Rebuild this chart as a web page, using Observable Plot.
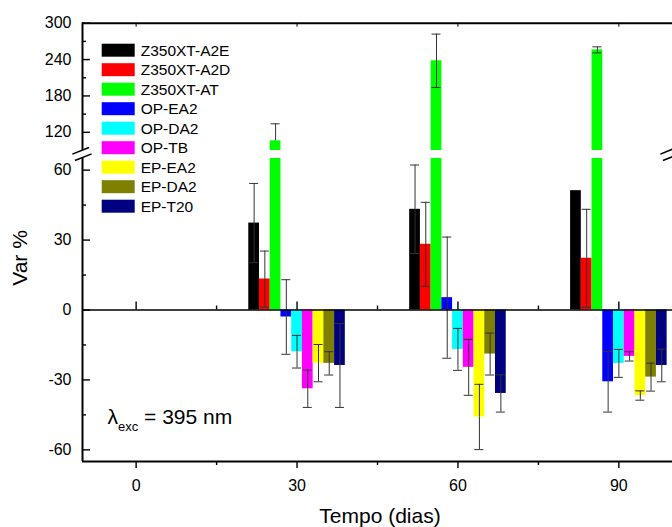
<!DOCTYPE html>
<html>
<head>
<meta charset="utf-8">
<script src="https://cdn.jsdelivr.net/npm/d3@7"></script>
<script src="https://cdn.jsdelivr.net/npm/@observablehq/plot@0.6"></script>
<style>
  body { margin: 0; background: #fff; }
  #chart { width: 672px; height: 527px; position: relative; }
</style>
</head>
<body>
<div id="chart"></div>
<script>
// ---------- data ----------
const days = [30, 60, 90];
const series = ["Z350XT-A2E", "Z350XT-A2D", "Z350XT-AT", "OP-EA2", "OP-DA2", "OP-TB", "EP-EA2", "EP-DA2", "EP-T20"];
const colors = ["#000000", "#ff0000", "#00ff00", "#0000ff", "#00ffff", "#ff00ff", "#ffff00", "#808000", "#000080"];

const var30 = [37.3, 13.3, 106, -3, -17.9, -33.8, -22.8, -22.9, -23.8];
const err30 = [17, 12, 28, 16, 7, 8, 8, 5, 18];
const var60 = [43.2, 28.2, 238, 5.3, -16.9, -24.6, -45.9, -18.9, -35.8];
const err60 = [19, 18, 44, 26, 9, 12, 14, 9, 8];
const var90 = [51.2, 22.2, 256, -30.8, -22.9, -19.9, -36.7, -28.8, -23.8];
const err90 = [0, 21, 5, 13, 6, 2, 2, 6, 7];

const xTicks = [0, 30, 60, 90];
const xMinor = [15, 45, 75];
const yTicksLow = [-60, -30, 0, 30, 60];
const yMinorLow = [-45, -15, 15, 45];
const yTicksHigh = [120, 180, 240, 300];
const yMinorHigh = [150, 210, 270];

const xLabel = "Tempo (dias)";
const yLabel = "Var %";

// ---------- layout constants ----------
const W = 672, H = 527;
const xDomain = [-10, 100];
const lowDomain = [-65, 65];
const highDomain = [90, 300];
const barW = 2;
const FONT = "'Liberation Sans', Arial, sans-serif";

// ---------- build tables ----------
const values = [var30, var60, var90];
const errors = [err30, err60, err90];
const rows = [];
days.forEach((day, d) => series.forEach((s, i) => {
  const xc = day + (i - (series.length - 1) / 2) * barW;
  rows.push({day, series: s, color: colors[i], v: values[d][i], e: errors[d][i], xc, x1: xc - barW / 2, x2: xc + barW / 2});
}));

const segOf = y => (y >= lowDomain[0] && y <= lowDomain[1]) ? 0 : (y >= highDomain[0] && y <= highDomain[1]) ? 1 : -1;

const pieces = [];
for (const r of rows) {
  pieces.push({...r, y1: 0, y2: Math.max(Math.min(r.v, lowDomain[1]), lowDomain[0])});
  if (r.v > highDomain[0]) pieces.push({...r, y1: highDomain[0], y2: Math.min(r.v, highDomain[1])});
}
const errSegs = [], caps = [];
for (const r of rows) {
  if (!r.e) continue;
  for (const p of [r.v - r.e, r.v + r.e]) {
    if (segOf(p) === segOf(r.v) && segOf(p) >= 0) {
      errSegs.push({xc: r.xc, y1: Math.min(p, r.v), y2: Math.max(p, r.v)});
      caps.push({xc: r.xc, y: p});
    }
  }
}

const xMin = [xDomain[0]];
const plot = Plot.plot({
  width: W, height: H,
  marginLeft: 82, marginRight: 0, marginTop: 23, marginBottom: 66,
  x: {domain: xDomain, range: [82, 672]},
  y: {type: "linear", domain: [lowDomain[0], lowDomain[1], highDomain[0], highDomain[1]], range: [461, 158, 150, 22.7]},
  color: {type: "identity"},
  style: {fontFamily: FONT, fontSize: "16px", color: "#000", background: "#fff", overflow: "visible"},
  marks: [
    Plot.rect(pieces, {x1: "x1", x2: "x2", y1: "y1", y2: "y2", fill: "color"}),
    Plot.ruleX(errSegs, {x: "xc", y1: "y1", y2: "y2", stroke: "#333", strokeWidth: 1}),
    Plot.ruleY(caps, {y: "y", x1: "xc", x2: "xc", insetLeft: -4.5, insetRight: -4.5, stroke: "#333", strokeWidth: 1}),
    // zero line with upward ticks
    Plot.ruleY([0], {stroke: "#000", strokeWidth: 1.6}),
    Plot.ruleX(xTicks, {x: d => d, y1: 0, y2: 0, insetTop: -8, stroke: "#000", strokeWidth: 1.4}),
    Plot.ruleX(xMinor, {x: d => d, y1: 0, y2: 0, insetTop: -4, stroke: "#000", strokeWidth: 1.4}),
    // frame
    Plot.ruleY([lowDomain[0]], {stroke: "#000", strokeWidth: 2}),
    Plot.ruleY([highDomain[1]], {stroke: "#000", strokeWidth: 2}),
    Plot.ruleX(xMin, {x: d => d, y1: lowDomain[0], y2: lowDomain[1], stroke: "#000", strokeWidth: 2}),
    Plot.ruleX(xMin, {x: d => d, y1: highDomain[0], y2: highDomain[1], stroke: "#000", strokeWidth: 2}),
    // bottom ticks (outward)
    Plot.ruleX(xTicks, {x: d => d, y1: lowDomain[0], y2: lowDomain[0], insetBottom: -7, stroke: "#000", strokeWidth: 1.4}),
    Plot.ruleX(xMinor, {x: d => d, y1: lowDomain[0], y2: lowDomain[0], insetBottom: -4, stroke: "#000", strokeWidth: 1.4}),
    // top ticks (inward)
    Plot.ruleX(xTicks, {x: d => d, y1: highDomain[1], y2: highDomain[1], insetBottom: -4, stroke: "#000", strokeWidth: 1}),
    // left ticks (inward)
    Plot.ruleY([...yTicksLow, ...yTicksHigh], {y: d => d, x1: xDomain[0], x2: xDomain[0], insetRight: -8, stroke: "#000", strokeWidth: 1.4}),
    Plot.ruleY([...yMinorLow, ...yMinorHigh], {y: d => d, x1: xDomain[0], x2: xDomain[0], insetRight: -4, stroke: "#000", strokeWidth: 1.4}),
    // tick labels
    Plot.axisY({ticks: [...yTicksLow, ...yTicksHigh], tickSize: 0, tickPadding: 11, label: null, fontSize: 16, tickFormat: d => String(d)}),
    Plot.axisX({ticks: xTicks, tickSize: 0, tickPadding: 18, label: null, fontSize: 16, tickFormat: d => String(d)})
  ]
});

document.getElementById("chart").appendChild(plot);

// ---------- decorations ----------
const svg = d3.select(plot);
const xs = plot.scale("x"), ys = plot.scale("y");
const px = v => xs.apply(v), py = v => ys.apply(v);

// axis titles
svg.append("text")
  .attr("transform", `translate(27,258) rotate(-90)`)
  .attr("text-anchor", "middle")
  .attr("font-family", FONT).attr("font-size", 21).attr("fill", "#000")
  .text(yLabel);
svg.append("text")
  .attr("x", (82 + 672) / 2 + 3).attr("y", 523)
  .attr("text-anchor", "middle")
  .attr("font-family", FONT).attr("font-size", 21).attr("fill", "#000")
  .text(xLabel);

// axis break marks
const yBreak = (py(lowDomain[1]) + py(highDomain[0])) / 2;
for (const bx of [px(xDomain[0]), px(xDomain[1]) - 2]) {
  const g = svg.append("g").attr("stroke", "#000").attr("stroke-width", 1.6);
  g.append("rect").attr("x", bx - 9).attr("y", yBreak - 3.5).attr("width", 18).attr("height", 7).attr("fill", "#fff").attr("stroke", "none")
    .attr("transform", `rotate(-22 ${bx} ${yBreak})`);
  for (const off of [-3.5, 3.5]) {
    g.append("line")
      .attr("x1", bx - 9).attr("x2", bx + 9)
      .attr("y1", yBreak + off).attr("y2", yBreak + off)
      .attr("transform", `rotate(-22 ${bx} ${yBreak})`);
  }
}

// legend
const leg = svg.append("g").attr("font-family", FONT).attr("font-size", 15.5).attr("text-anchor", "start");
series.forEach((s, i) => {
  const y0 = 43.7 + 19.5 * i;
  leg.append("rect").attr("x", 101.7).attr("y", y0).attr("width", 33).attr("height", 13).attr("fill", colors[i]);
  leg.append("text").attr("x", 140.7).attr("y", y0 + 6.5).attr("dy", "0.36em").attr("fill", "#000").text(s);
});

// annotation
const ann = svg.append("text").attr("x", 107.5).attr("y", 424).attr("text-anchor", "start")
  .attr("font-family", FONT).attr("font-size", 21).attr("fill", "#000");
ann.append("tspan").text("λ");
ann.append("tspan").attr("font-size", 13).attr("dy", 7).text("exc");
ann.append("tspan").attr("dy", -7).text(" = 395 nm");
</script>
</body>
</html>
